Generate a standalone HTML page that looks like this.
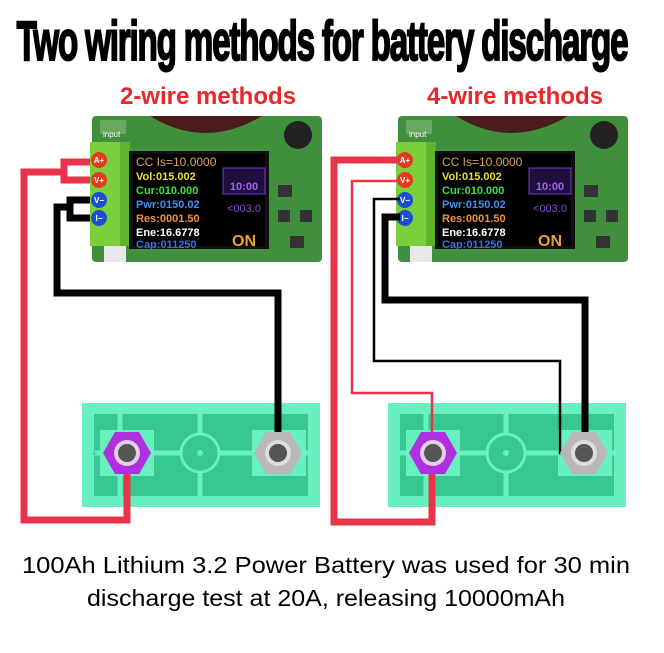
<!DOCTYPE html>
<html><head><meta charset="utf-8"><style>
html,body{margin:0;padding:0;background:#fff;}
body{width:664px;height:648px;overflow:hidden;}
</style></head><body>
<svg width="664" height="648" viewBox="0 0 664 648" xmlns="http://www.w3.org/2000/svg" font-family="Liberation Sans, sans-serif">
<rect width="664" height="648" fill="#fff"/>
<text x="322" y="60" text-anchor="middle" font-size="56" font-weight="bold" fill="#000" stroke="#000" stroke-width="2" transform="translate(322 0) scale(0.62 1) translate(-322 0)" textLength="985" lengthAdjust="spacingAndGlyphs" letter-spacing="-2">Two wiring methods for battery discharge</text>
<text x="208" y="104" text-anchor="middle" font-size="24" font-weight="bold" fill="#e8262b">2-wire methods</text>
<text x="515" y="104" text-anchor="middle" font-size="24" font-weight="bold" fill="#e8262b">4-wire methods</text>

<defs>
<g id="mod">
  <rect x="92" y="116" width="230" height="146" rx="4" fill="#3f8f3c"/>
  <path d="M150 116 Q205 150 262 116Z" fill="#4a1c1c"/>
  <rect x="100" y="120" width="26" height="14" fill="#6aa864"/>
  <text x="103" y="137" font-size="8" fill="#fff">input</text>
  <circle cx="298" cy="135" r="14" fill="#222"/>
  <rect x="90" y="142" width="40" height="104" fill="#7ccf3c"/>
  <rect x="120" y="142" width="10" height="104" fill="#5fb32e"/>
  <rect x="104" y="246" width="22" height="16" fill="#e8e8e8"/>
  <circle cx="99" cy="160" r="8" fill="#e23a1e"/><text x="99" y="163" font-size="8" fill="#fff" text-anchor="middle" font-weight="bold">A+</text>
  <circle cx="99" cy="180" r="8" fill="#e23a1e"/><text x="99" y="183" font-size="8" fill="#fff" text-anchor="middle" font-weight="bold">V+</text>
  <circle cx="99" cy="200" r="8" fill="#1c4fd0"/><text x="99" y="203" font-size="8" fill="#fff" text-anchor="middle" font-weight="bold">V−</text>
  <circle cx="99" cy="218" r="8" fill="#1c4fd0"/><text x="99" y="221" font-size="8" fill="#fff" text-anchor="middle" font-weight="bold">I−</text>
  <rect x="129" y="151" width="140" height="98" fill="#111"/>
  <rect x="133" y="154" width="132" height="92" fill="#000"/>
  <text x="136" y="166" font-size="12" fill="#e0a060">CC  Is=10.0000</text>
  <text x="136" y="180" font-size="11" fill="#e8e030" font-weight="bold">Vol:015.002</text>
  <text x="136" y="194" font-size="11" fill="#40e040" font-weight="bold">Cur:010.000</text>
  <text x="136" y="208" font-size="11" fill="#4090f0" font-weight="bold">Pwr:0150.02</text>
  <text x="136" y="222" font-size="11" fill="#f09040" font-weight="bold">Res:0001.50</text>
  <text x="136" y="236" font-size="11" fill="#fff" font-weight="bold">Ene:16.6778</text>
  <text x="136" y="248" font-size="11" fill="#4070e0" font-weight="bold">Cap:011250</text>
  <rect x="223" y="168" width="42" height="26" fill="#201040" stroke="#7040c0"/>
  <text x="244" y="190" font-size="11" fill="#a060f0" text-anchor="middle" font-weight="bold">10:00</text>
  <text x="244" y="212" font-size="11" fill="#8050d0" text-anchor="middle">&lt;003.0</text>
  <text x="244" y="246" font-size="16" fill="#f0a030" text-anchor="middle" font-weight="bold">ON</text>
  <rect x="278" y="185" width="14" height="12" fill="#333"/>
  <rect x="278" y="210" width="12" height="12" fill="#333"/><rect x="300" y="210" width="12" height="12" fill="#333"/>
  <rect x="290" y="236" width="14" height="12" fill="#333"/>
</g>
<g id="bat">
  <rect x="82" y="403" width="238" height="104" fill="#68f0c0"/>
  <rect x="94" y="414" width="214" height="82" fill="#36c890"/>
  <path d="M94 453H308M200 414V496M120 414V496" stroke="#68f0c0" stroke-width="5"/>
  <circle cx="200" cy="453" r="19" fill="#36c890" stroke="#68f0c0" stroke-width="3"/>
  <circle cx="200" cy="453" r="3" fill="#68f0c0"/>
  <rect x="100" y="430" width="54" height="46" fill="#68f0c0"/>
  <rect x="252" y="430" width="54" height="46" fill="#68f0c0"/>
</g>
</defs>

<use href="#mod"/>
<use href="#mod" transform="translate(306 0)"/>
<use href="#bat"/>
<use href="#bat" transform="translate(306 0)"/>

<g fill="none" stroke-linejoin="miter">
<path d="M90 162H64V180H90" stroke="#e8334a" stroke-width="7"/>
<path d="M64 172H24V520H127V455" stroke="#e8334a" stroke-width="7"/>
<path d="M90 200H70V218H90" stroke="#000" stroke-width="7"/>
<path d="M70 207H57V293H278V440" stroke="#000" stroke-width="7"/>
<path d="M400 160H334V522H432V455" stroke="#e8334a" stroke-width="7"/>
<path d="M400 181H352V393H432V440" stroke="#e8334a" stroke-width="2.5"/>
<path d="M400 199H374V361H560V453H585" stroke="#000" stroke-width="2.5"/>
<path d="M400 217H385V300H585V440" stroke="#000" stroke-width="7"/>
</g>

<g id="term">
<polygon points="103,453 115,432 139,432 151,453 139,474 115,474" fill="#b030e0"/>
<circle cx="127" cy="453" r="13" fill="#e0d0e8"/>
<circle cx="127" cy="453" r="9" fill="#555"/>
<polygon points="254,453 266,432 290,432 302,453 290,474 266,474" fill="#b8b8b8"/>
<circle cx="278" cy="453" r="13" fill="#ddd"/>
<circle cx="278" cy="453" r="9" fill="#555"/>
</g>
<use href="#term" transform="translate(306 0)"/>
<text x="91" y="457" font-size="11" fill="#36c890">+</text>

<text x="326" y="573" text-anchor="middle" font-size="23" fill="#000" textLength="608" lengthAdjust="spacingAndGlyphs">100Ah Lithium 3.2 Power Battery was used for 30 min</text>
<text x="326" y="606" text-anchor="middle" font-size="23" fill="#000" textLength="478" lengthAdjust="spacingAndGlyphs">discharge test at 20A, releasing 10000mAh</text>
</svg>
</body></html>
